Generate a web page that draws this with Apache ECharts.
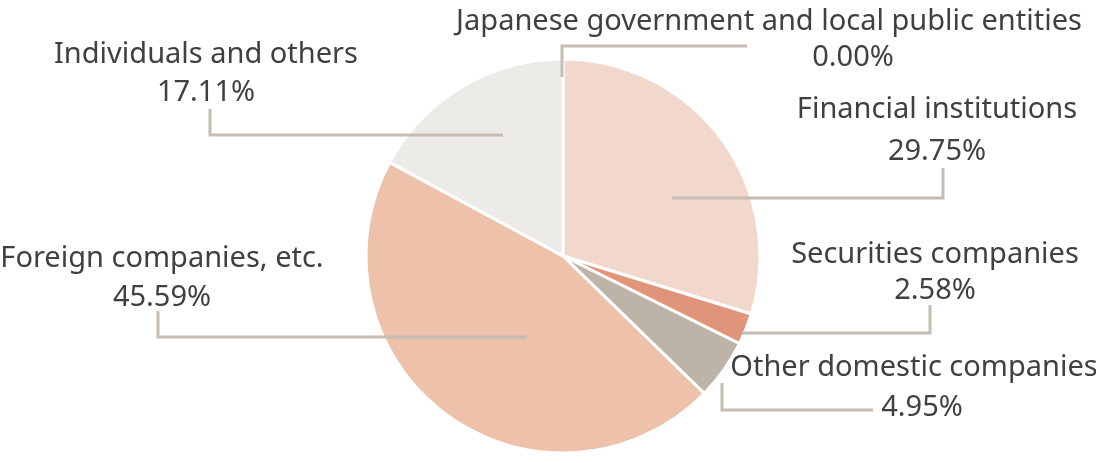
<!DOCTYPE html>
<html><head><meta charset="utf-8">
<script src="https://cdn.jsdelivr.net/npm/echarts@6/dist/echarts.min.js"></script>
<style>html,body{margin:0;padding:0;background:#fff}#c{width:1096px;height:463px}</style>
</head><body><div id="c"></div>
<script>
var categories = ['Japanese government and local public entities', 'Financial institutions', 'Securities companies', 'Other domestic companies', 'Foreign companies, etc.', 'Individuals and others'];
var shares = [0.00, 29.75, 2.58, 4.95, 45.59, 17.11];
var sliceColors = ['#f2d8cc', '#f2d8cc', '#e0957b', '#bdb3a7', '#edc1aa', '#ecebe8'];

// label placement (layout only): block centre x/y, line height, value left padding, leader line points
var labelPlacement = [
  {x: 769, y: 40, lh: 36, pad: 168, line: [[562, 77], [562, 46], [747, 46]]},
  {x: 937, y: 131, lh: 42, pad: 0, line: [[672, 198], [943, 198], [943, 168]]},
  {x: 935, y: 273, lh: 36, pad: 0, line: [[742, 333], [930, 333], [930, 305]]},
  {x: 914, y: 388, lh: 40, pad: 16, line: [[722, 383], [722, 410], [873, 410]]},
  {x: 162, y: 278, lh: 39, pad: 0, line: [[527, 337], [158, 337], [158, 311]]},
  {x: 206, y: 74, lh: 38, pad: 0, line: [[503, 135], [210, 135], [210, 109]]}
];

var FONT = 'Noto Sans';
var FS = 29;
var TXT = '#404040';
var CENTER = [563, 256];
var RADIUS = 197;

var chart = echarts.init(document.getElementById('c'), null, {renderer: 'canvas'});

var sliceData = categories.map(function (name, i) {
  return {name: name, value: shares[i], itemStyle: {color: sliceColors[i]}};
});
var labelData = categories.map(function (name, i) {
  var p = labelPlacement[i];
  return {
    name: name,
    value: shares[i],
    label: {
      rich: {
        t: {fontFamily: FONT, fontSize: FS, color: TXT, lineHeight: p.lh},
        v: {fontFamily: FONT, fontSize: FS, color: TXT, lineHeight: p.lh, padding: [0, 0, 0, p.pad]}
      }
    }
  };
});

chart.setOption({
  animation: false,
  series: [{
    type: 'pie',
    z: 2,
    center: CENTER,
    radius: RADIUS,
    startAngle: 90,
    clockwise: true,
    stillShowZeroSum: true,
    silent: true,
    itemStyle: {borderColor: '#ffffff', borderWidth: 3},
    emphasis: {disabled: true},
    label: {show: false},
    labelLine: {show: false},
    data: sliceData
  }, {
    type: 'pie',
    z: 5,
    center: CENTER,
    radius: RADIUS,
    startAngle: 90,
    clockwise: true,
    stillShowZeroSum: true,
    silent: true,
    avoidLabelOverlap: false,
    itemStyle: {color: 'rgba(0,0,0,0)', borderWidth: 0},
    emphasis: {disabled: true},
    label: {
      show: true,
      position: 'outside',
      formatter: function (prm) {
        return '{t|' + prm.name + '}\n{v|' + prm.value.toFixed(2) + '%}';
      }
    },
    labelLine: {show: true, showAbove: true, length: 10, length2: 10, smooth: false,
      lineStyle: {color: '#c5bcb3', width: 3, opacity: 1}},
    labelLayout: function (prm) {
      var p = labelPlacement[prm.dataIndex];
      return {
        x: p.x, y: p.y, align: 'center', verticalAlign: 'middle',
        labelLinePoints: p.line
      };
    },
    data: labelData
  }]
});
</script>
</body></html>
